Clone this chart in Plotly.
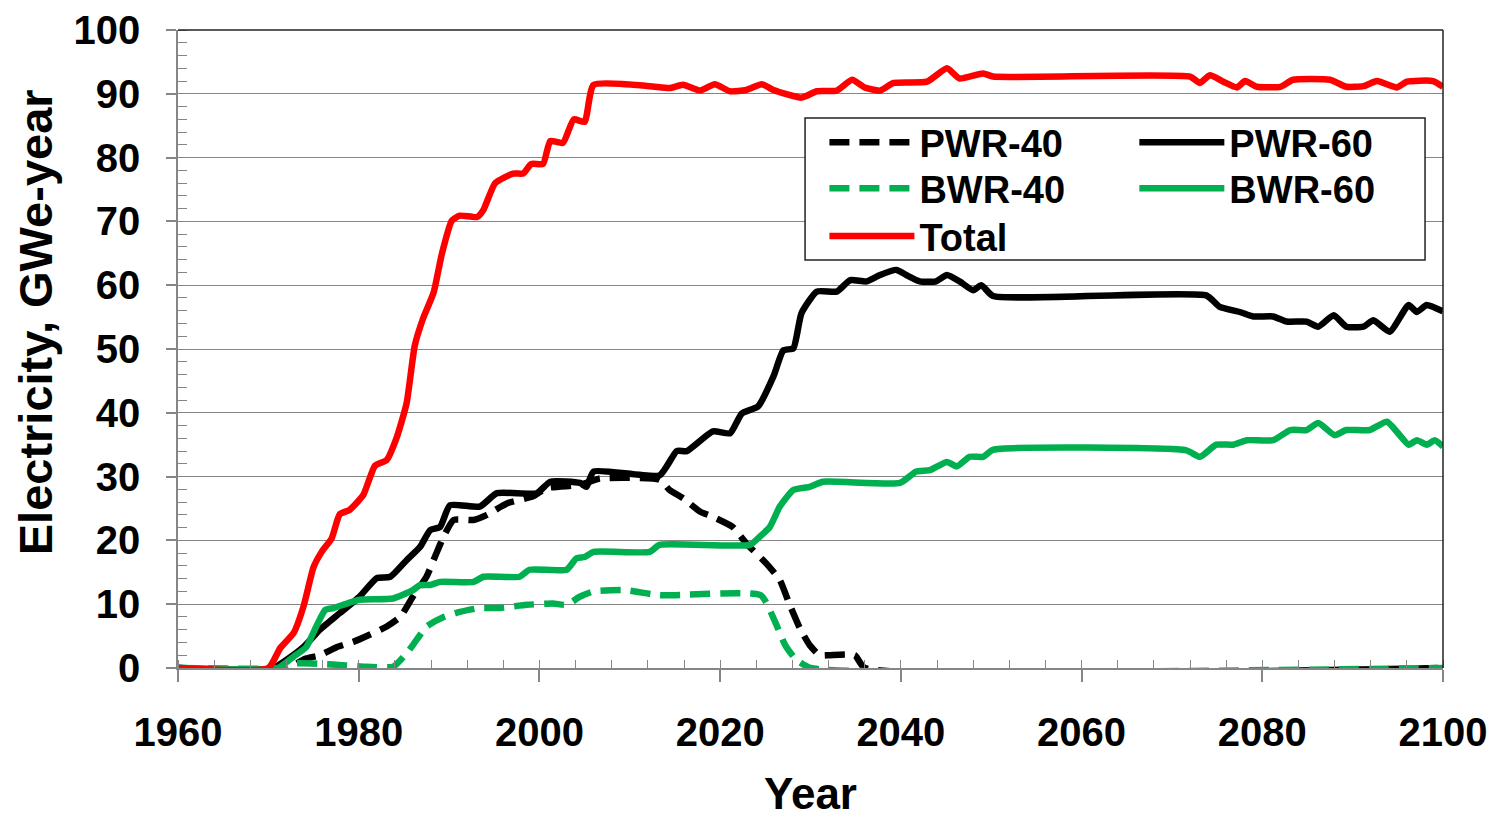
import plotly.graph_objects as go

# Electricity generation by reactor type and licence life, GWe-year
total_year = [1960, 1970, 1971.3, 1972.8, 1973.9, 1975.0, 1975.9, 1977.0, 1977.9, 1979.0, 1980.5,
              1981.8, 1983.1, 1984.2, 1985.3, 1986.2, 1987.1, 1988.3, 1989.2, 1990.3, 1991.2,
              1993.1, 1993.8, 1995.1, 1997.1, 1998.2, 1999.1, 2000.4, 2001.2, 2002.6, 2003.8,
              2005.0, 2006.0, 2012.2, 2014.4, 2015.9, 2017.8, 2019.4, 2021.1, 2022.9, 2024.6,
              2025.9, 2029.0, 2030.7, 2032.9, 2034.6, 2036.0, 2037.7, 2039.2, 2042.9, 2045.1,
              2046.5, 2049.1, 2050.2, 2072.0, 2073.1, 2074.2, 2075.7, 2077.2, 2078.1, 2079.4,
              2082.0, 2083.4, 2087.5, 2089.3, 2091.2, 2092.7, 2094.9, 2096.0, 2098.9, 2100]
total_val = [0, 0, 3.1, 5.5, 9.7, 15.8, 18.2, 20.3, 24.1, 24.8, 27.1,
             31.7, 32.6, 36.1, 41.5, 50.5, 54.7, 58.9, 64.9, 70.1, 70.9,
             70.7, 71.8, 76.0, 77.5, 77.5, 79.0, 79.0, 82.6, 82.3, 86.0,
             85.6, 91.4, 91.2, 90.9, 91.4, 90.5, 91.5, 90.4, 90.6, 91.5,
             90.6, 89.4, 90.4, 90.5, 92.2, 91.0, 90.5, 91.7, 91.9, 94.0,
             92.4, 93.2, 92.7, 92.7, 91.7, 92.9, 91.9, 91.0, 92.0, 91.1,
             91.1, 92.2, 92.2, 91.1, 91.2, 92.0, 91.0, 91.9, 92.0, 91.1]

pwr60_year = [1960, 1970.5, 1973.9, 1975.7, 1977.9, 1980.1, 1982.0, 1983.5, 1985.3, 1986.8, 1987.9,
              1989.0, 1990.1, 1993.4, 1995.3, 1999.7, 2001.2, 2004.5, 2005.2, 2006.0, 2013.3,
              2015.2, 2016.3, 2019.2, 2021.1, 2022.4, 2024.2, 2025.9, 2027.0, 2028.1, 2029.0,
              2030.7, 2032.9, 2034.4, 2036.2, 2037.7, 2039.5, 2040.6, 2042.1, 2043.9, 2045.1,
              2046.5, 2048.0, 2048.9, 2050.2, 2073.8, 2075.3, 2077.5, 2079.0, 2081.2, 2082.7,
              2084.9, 2086.2, 2087.9, 2089.3, 2091.2, 2092.3, 2094.1, 2096.2, 2097.1, 2098.2, 2100]
pwr60_val = [0, 0, 3.3, 6.0, 8.6, 11.2, 14.1, 14.3, 16.9, 19.0, 21.6,
             22.1, 25.5, 25.3, 27.4, 27.4, 29.2, 29.0, 28.4, 30.8, 30.2,
             34.0, 34.0, 37.1, 36.8, 39.9, 41.0, 45.7, 49.8, 50.1, 55.6,
             59.0, 59.0, 60.8, 60.6, 61.6, 62.4, 61.6, 60.6, 60.6, 61.6,
             60.6, 59.2, 60.0, 58.3, 58.4, 56.6, 55.8, 55.1, 55.1, 54.3,
             54.3, 53.5, 55.3, 53.5, 53.5, 54.5, 52.7, 56.9, 55.8, 56.9, 55.9]

bwr60_year = [1960, 1971.0, 1972.8, 1974.2, 1975.3, 1976.3, 1977.2, 1978.7, 1980.1, 1983.8, 1986.0,
              1986.8, 1987.9, 1989.0, 1992.7, 1993.8, 1997.8, 1998.9, 2003.0, 2004.1, 2005.0,
              2006.0, 2012.2, 2013.3, 2023.3, 2024.4, 2025.5, 2026.6, 2028.1, 2029.9, 2031.4,
              2039.9, 2041.7, 2043.2, 2045.1, 2046.2, 2047.6, 2049.1, 2050.2, 2071.6, 2073.1,
              2074.9, 2076.8, 2078.3, 2081.2, 2083.1, 2084.9, 2086.2, 2088.0, 2089.3, 2091.9,
              2093.8, 2096.2, 2097.1, 2098.2, 2099.1, 2100]
bwr60_val = [0, 0, 1.8, 3.3, 6.5, 9.1, 9.4, 10.1, 10.7, 10.9, 12.2,
             13.0, 13.0, 13.5, 13.5, 14.3, 14.3, 15.4, 15.4, 17.2, 17.4,
             18.2, 18.2, 19.3, 19.3, 20.6, 22.1, 25.3, 27.9, 28.4, 29.2,
             29.0, 30.8, 31.0, 32.3, 31.6, 33.1, 33.1, 34.2, 34.1, 33.1,
             35.0, 35.0, 35.7, 35.7, 37.3, 37.3, 38.4, 36.5, 37.3, 37.3,
             38.6, 35.0, 35.7, 35.0, 35.7, 34.7]

pwr40_year = [1960, 1972.0, 1974.2, 1975.7, 1977.6, 1979.4, 1981.2, 1983.1, 1984.6, 1986.0, 1987.5,
              1988.6, 1989.4, 1990.5, 1992.7, 1994.2, 1996.4, 1999.3, 2000.8, 2004.5, 2006.7,
              2013.3, 2014.4, 2015.9, 2017.8, 2019.2, 2021.4, 2022.9, 2025.1, 2026.6, 2027.7,
              2028.8, 2029.9, 2031.0, 2032.0, 2034.9, 2036.0, 2100]
pwr40_val = [0, 0, 1.5, 2.0, 3.3, 4.1, 5.2, 6.5, 8.0, 11.2, 14.3,
             18.0, 20.6, 23.2, 23.2, 24.0, 25.8, 26.9, 28.2, 28.7, 29.7,
             29.5, 27.9, 26.6, 24.5, 23.7, 22.1, 19.5, 16.4, 13.8, 9.9,
             6.3, 3.6, 2.0, 2.0, 2.0, 0, 0]

bwr40_year = [1960, 1971.5, 1972.8, 1976.5, 1980.9, 1983.8, 1985.3, 1986.4, 1987.5, 1989.4, 1991.2,
              1993.4, 1995.6, 1998.6, 2001.5, 2003.0, 2004.5, 2006.0, 2009.6, 2013.3, 2024.5,
              2026.0, 2027.2, 2028.3, 2030.0, 2100]
bwr40_val = [0, 0, 0.7, 0.6, 0.2, 0.2, 2.3, 4.4, 6.5, 8.0, 8.8,
             9.4, 9.4, 9.9, 10.1, 9.9, 11.2, 12.0, 12.2, 11.4, 11.4,
             7.5, 3.6, 1.5, 0, 0]

BLACK = "#000000"
GREEN = "#00B050"
RED = "#FF0000"
AXIS_GREY = "#868686"
FONT = "Arial, 'Liberation Sans', sans-serif"

# name, x, y, colour, dash, legend slot
series = [
    ("PWR-40", pwr40_year, pwr40_val, BLACK, "20px,10px", "legend"),
    ("PWR-60", pwr60_year, pwr60_val, BLACK, "solid", "legend2"),
    ("BWR-40", bwr40_year, bwr40_val, GREEN, "20px,10px", "legend3"),
    ("BWR-60", bwr60_year, bwr60_val, GREEN, "solid", "legend4"),
    ("Total", total_year, total_val, RED, "solid", "legend5"),
]

fig = go.Figure()
for name, xs, ys, color, dash, leg in series:
    fig.add_trace(go.Scatter(
        x=xs, y=ys, name=name, mode="lines", legend=leg, showlegend=True,
        line=dict(color=color, width=6.5, dash=dash, shape="spline", smoothing=0.5),
    ))

# Legend laid out as a 2-column grid: one single-entry legend per cell
legend_style = dict(
    orientation="v", xanchor="left", yanchor="top",
    bgcolor="rgba(0,0,0,0)", borderwidth=0, itemwidth=85, tracegroupgap=0,
    font=dict(family=FONT, size=38, color="black", weight="bold"),
)
col_x = [0.511, 0.756]
row_y = [0.873, 0.801, 0.726]

fig.update_layout(
    width=1493, height=818,
    margin=dict(l=178, r=50, t=30, b=150),
    paper_bgcolor="white", plot_bgcolor="white",
    font=dict(family=FONT, size=40, color="black"),
    showlegend=True,
    legend=dict(x=col_x[0], y=row_y[0], **legend_style),
    legend2=dict(x=col_x[1], y=row_y[0], **legend_style),
    legend3=dict(x=col_x[0], y=row_y[1], **legend_style),
    legend4=dict(x=col_x[1], y=row_y[1], **legend_style),
    legend5=dict(x=col_x[0], y=row_y[2], **legend_style),
    xaxis=dict(
        range=[1960, 2100], dtick=20, tick0=1960, automargin=False,
        showgrid=False, zeroline=False,
        showline=True, linecolor=AXIS_GREY, linewidth=1.5,
        ticks="outside", ticklen=12, tickcolor=AXIS_GREY, tickwidth=1.5,
        minor=dict(dtick=4, tick0=1960, ticks="inside", ticklen=8, tickcolor=AXIS_GREY, tickwidth=1.2),
        tickfont=dict(family=FONT, size=40, weight="bold"),
        ticklabelstandoff=16,
        title=dict(text="Year", font=dict(family=FONT, size=44, weight="bold"), standoff=40),
    ),
    yaxis=dict(
        range=[0, 100], dtick=10, automargin=False,
        showgrid=True, gridcolor=AXIS_GREY, gridwidth=1.3, zeroline=False,
        showline=True, linecolor=AXIS_GREY, linewidth=1.5,
        ticks="outside", ticklen=10, tickcolor=AXIS_GREY, tickwidth=1.5,
        minor=dict(dtick=2, ticks="inside", ticklen=9, tickcolor=AXIS_GREY, tickwidth=1.2, showgrid=False),
        tickfont=dict(family=FONT, size=40, weight="bold"),
        ticklabelstandoff=18,
    ),
)

# Y-axis title, set slightly above the plot's mid-height
fig.add_annotation(
    text="Electricity, GWe-year", textangle=-90, showarrow=False,
    xref="paper", yref="paper", x=-0.113, y=0.542, xanchor="center", yanchor="middle",
    font=dict(family=FONT, size=47, color="black", weight="bold"),
)

# Plot-area frame on the top and right edges
fig.add_shape(type="line", xref="paper", yref="paper", x0=0, x1=1, y0=1, y1=1,
              line=dict(color="#222222", width=1.5))
fig.add_shape(type="line", xref="paper", yref="paper", x0=1, x1=1, y0=0, y1=1,
              line=dict(color="#222222", width=1.5))
# Legend box spanning both legend columns
fig.add_shape(type="rect", xref="paper", yref="paper", x0=0.4957, x1=0.9858, y0=0.6395, y1=0.862,
              line=dict(color="#222222", width=1.5), fillcolor="white", layer="above")

fig.write_html("out.html")
